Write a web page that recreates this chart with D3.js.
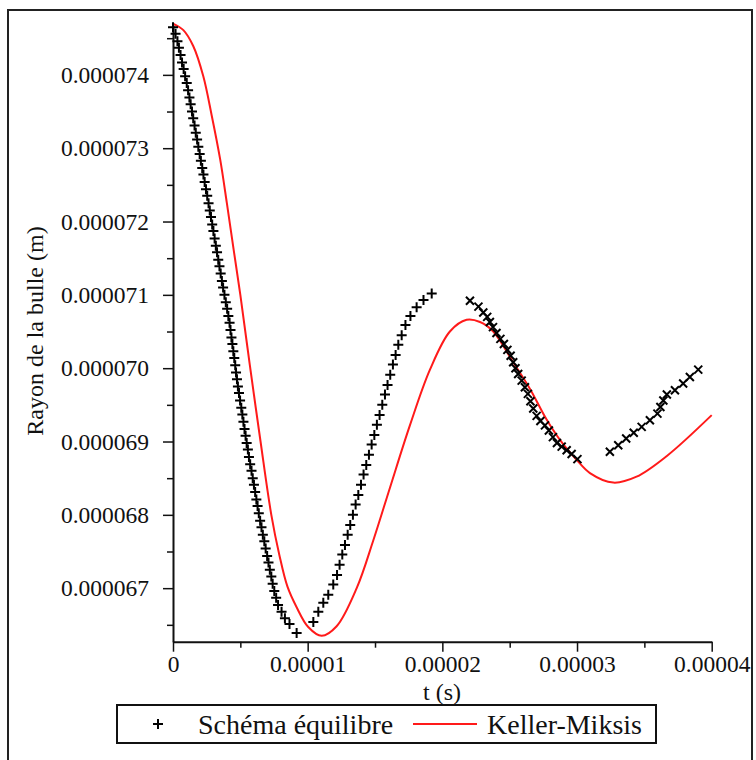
<!DOCTYPE html>
<html>
<head>
<meta charset="utf-8">
<script src="https://cdnjs.cloudflare.com/ajax/libs/d3/7.8.5/d3.min.js"></script>
<style>
	body { margin: 0; background: #fff; }
	svg text { font-family: "Liberation Serif", "Times New Roman", serif; fill: #111; }
</style>
</head>
<body>
<svg id="chart" width="756" height="760"></svg>
<script>
(function(){
	'use strict';

	// values: t in microseconds, radius in micrometres
	var schemaT = [
		0.00,0.19,0.33,0.44,0.56,0.67,0.79,0.90,1.02,1.12,1.22,1.31,1.41,1.50,1.60,1.69,1.79,1.88,
		1.98,2.07,2.17,2.26,2.35,2.45,2.54,2.64,2.73,2.82,2.91,3.00,3.09,3.18,3.27,3.36,3.45,3.54,
		3.63,3.72,3.82,3.92,4.02,4.11,4.20,4.27,4.34,4.41,4.48,4.55,4.62,4.68,4.75,4.82,4.90,4.98,
		5.07,5.15,5.23,5.31,5.39,5.47,5.56,5.64,5.73,5.83,5.92,6.01,6.10,6.19,6.28,6.37,6.47,6.57,
		6.67,6.78,6.88,6.99,7.09,7.19,7.30,7.40,7.52,7.66,7.80,8.06,8.31,8.65,9.18,
		10.42,10.79,11.16,11.53,11.90,12.18,12.37,12.57,12.77,12.97,13.16,13.36,13.56,13.76,13.96,
		14.15,14.35,14.55,14.75,14.95,15.14,15.34,15.54,15.74,15.93,16.13,16.33,16.53,16.73,16.98,
		17.26,17.63,18.09,18.60,19.21,
		22.05,22.68,23.04,23.33,23.53,23.76,24.02,24.31,24.57,24.83,25.07,25.26,25.43,25.63,25.89,
		26.13,26.35,26.54,26.75,27.00,27.28,27.62,27.91,28.21,28.51,28.86,29.23,29.60,30.03,
		32.44,33.06,33.65,34.21,34.80,35.41,35.97,36.19,36.41,36.67,37.27,37.88,38.38,39.00
	];
	var schemaR = [
		74.65,74.56,74.46,74.37,74.27,74.17,74.08,73.98,73.89,73.79,73.69,73.60,73.50,73.41,73.31,73.21,73.12,73.02,
		72.92,72.83,72.73,72.64,72.54,72.44,72.35,72.25,72.15,72.06,71.96,71.87,71.77,71.67,71.58,71.48,71.39,71.29,
		71.19,71.10,71.00,70.90,70.81,70.71,70.62,70.52,70.42,70.33,70.23,70.14,70.04,69.94,69.85,69.75,69.66,69.56,
		69.46,69.37,69.27,69.17,69.08,68.98,68.89,68.79,68.69,68.60,68.50,68.41,68.31,68.21,68.12,68.02,67.92,67.83,
		67.73,67.64,67.54,67.44,67.35,67.25,67.16,67.06,66.96,66.87,66.77,66.68,66.59,66.51,66.39,
		66.54,66.68,66.80,66.91,67.05,67.18,67.32,67.46,67.59,67.73,67.86,68.00,68.14,68.27,68.41,
		68.55,68.68,68.82,68.96,69.09,69.23,69.36,69.50,69.64,69.77,69.91,70.05,70.18,70.32,70.45,
		70.59,70.71,70.83,70.93,71.02,
		70.92,70.84,70.76,70.70,70.63,70.56,70.48,70.40,70.33,70.25,70.17,70.08,70.00,69.92,69.83,
		69.74,69.65,69.55,69.45,69.35,69.28,69.22,69.15,69.06,68.98,68.93,68.88,68.83,68.76,
		68.86,68.95,69.04,69.12,69.20,69.29,69.38,69.47,69.56,69.64,69.70,69.79,69.88,69.98
	];

	var kmT = [0,0.77,1.51,2.25,2.87,3.50,4.00,4.50,5.00,5.70,6.50,7.30,7.90,8.50,9.18,10.04,11.04,
		12.15,13.64,14.87,16.11,17.59,19.08,20.56,21.80,22.80,23.78,25.26,26.50,27.74,28.90,29.97,
		30.96,32.69,34.42,36.65,40.00];
	var kmR = [74.70,74.61,74.39,73.98,73.45,72.85,72.25,71.62,71.00,70.05,69.00,68.00,67.45,67.02,66.74,66.47,66.35,
		66.48,67.00,67.65,68.37,69.22,69.98,70.50,70.66,70.63,70.50,70.08,69.72,69.30,68.98,68.75,
		68.57,68.44,68.52,68.80,69.36];

	var xTicks = [0, 0.00001, 0.00002, 0.00003, 0.00004];
	var xMinor = [0.000005, 0.000015, 0.000025, 0.000035];
	var yTicks = [0.000067, 0.000068, 0.000069, 0.000070, 0.000071, 0.000072, 0.000073, 0.000074];
	var yMinor = [0.0000665, 0.0000675, 0.0000685, 0.0000695, 0.0000705, 0.0000715, 0.0000725, 0.0000735, 0.0000745];

	var seriesNames = ["Schéma équilibre", "Keller-Miksis"];

	var schema = schemaT.map(function(t, i){ return {t: t * 1e-6, r: schemaR[i] * 1e-6}; });
	var km = kmT.map(function(t, i){ return {t: t * 1e-6, r: kmR[i] * 1e-6}; });

	var svg = d3.select("#chart");

	// figure frame
	svg.append("rect")
		.attr("x", 8).attr("y", 10)
		.attr("width", 744).attr("height", 770)
		.attr("fill", "none")
		.attr("stroke", "#222")
		.attr("stroke-width", 2);

	var x = d3.scaleLinear().domain([0, 0.00004]).range([173, 711.7]);
	var y = d3.scaleLinear().domain([0.00006627, 0.00007468]).range([641.7, 25]);

	var tickFont = "23.5px";

	// minor ticks first, then main axes on top
	svg.append("g")
		.attr("transform", "translate(173,0)")
		.call(d3.axisLeft(y).tickValues(yMinor).tickSize(6).tickFormat(""))
		.call(function(g){ g.select(".domain").remove(); })
		.selectAll("line").attr("stroke", "#111").attr("stroke-width", 1.5);

	svg.append("g")
		.attr("transform", "translate(0,641.7)")
		.call(d3.axisBottom(x).tickValues(xMinor).tickSize(6).tickFormat(""))
		.call(function(g){ g.select(".domain").remove(); })
		.selectAll("line").attr("stroke", "#111").attr("stroke-width", 1.5);

	var yAxis = svg.append("g")
		.attr("transform", "translate(173,0)")
		.call(d3.axisLeft(y).tickValues(yTicks).tickSize(10).tickSizeOuter(0).tickPadding(14)
			.tickFormat(d3.format(".6f")));

	var xAxis = svg.append("g")
		.attr("transform", "translate(0,641.7)")
		.call(d3.axisBottom(x).tickValues(xTicks).tickSize(10).tickSizeOuter(0).tickPadding(4)
			.tickFormat(function(d){ return d === 0 ? "0" : d3.format(".5f")(d); }));

	[yAxis, xAxis].forEach(function(a){
		a.select(".domain").attr("stroke", "#111").attr("stroke-width", 2);
		a.selectAll(".tick line").attr("stroke", "#111").attr("stroke-width", 1.5);
		a.selectAll(".tick text")
			.attr("fill", "#111")
			.style("font-family", '"Liberation Serif", "Times New Roman", serif')
			.style("font-size", tickFont);
	});

	// axis titles
	svg.append("text")
		.attr("x", 442).attr("y", 700)
		.attr("text-anchor", "middle")
		.style("font-size", "24px")
		.text("t (s)");

	svg.append("text")
		.attr("transform", "translate(43,331) rotate(-90)")
		.attr("text-anchor", "middle")
		.style("font-size", "24px")
		.text("Rayon de la bulle (m)");

	// Keller-Miksis curve
	var line = d3.line()
		.x(function(d){ return x(d.t); })
		.y(function(d){ return y(d.r); })
		.curve(d3.curveCatmullRom.alpha(0.5));

	svg.append("path")
		.datum(km)
		.attr("d", line)
		.attr("fill", "none")
		.attr("stroke", "#ff1a1a")
		.attr("stroke-width", 2);

	// schema markers
	var plus = "M-5,0H5M0,-5V5";
	var cross = "M-4,-4L4,4M-4,4L4,-4";

	svg.append("g").selectAll("path")
		.data(schema)
		.enter().append("path")
			.attr("transform", function(d){ return "translate(" + x(d.t) + "," + y(d.r) + ")"; })
			.attr("d", function(d){ return d.t > 0.00002 ? cross : plus; })
			.attr("stroke", "#000")
			.attr("stroke-width", 2)
			.attr("fill", "none");

	// legend
	var legend = svg.append("g");
	legend.append("rect")
		.attr("x", 117).attr("y", 705)
		.attr("width", 539).attr("height", 38)
		.attr("fill", "#fff")
		.attr("stroke", "#111")
		.attr("stroke-width", 2);

	legend.append("path")
		.attr("transform", "translate(158,724)")
		.attr("d", plus)
		.attr("stroke", "#000")
		.attr("stroke-width", 2);

	legend.append("text")
		.attr("x", 198).attr("y", 734)
		.style("font-size", "28px")
		.text(seriesNames[0]);

	legend.append("line")
		.attr("x1", 413).attr("x2", 477)
		.attr("y1", 724).attr("y2", 724)
		.attr("stroke", "#ff1a1a")
		.attr("stroke-width", 2);

	legend.append("text")
		.attr("x", 487).attr("y", 734)
		.style("font-size", "28px")
		.text(seriesNames[1]);

})();
</script>
</body>
</html>
